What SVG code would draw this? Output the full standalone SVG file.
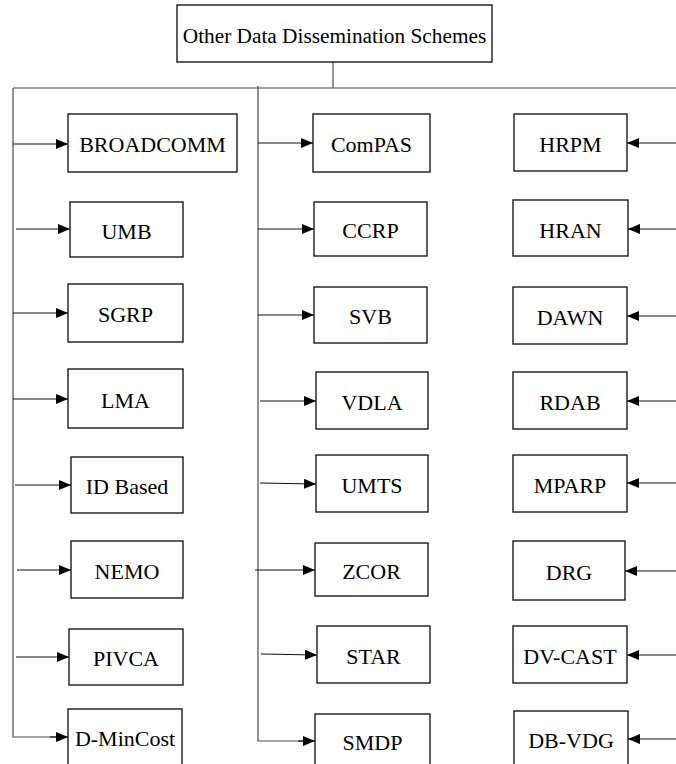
<svg xmlns="http://www.w3.org/2000/svg" width="676" height="764" viewBox="0 0 676 764" font-family="'Liberation Serif', 'Times New Roman', 'DejaVu Serif', serif">
  <style>
    .box { fill: #ffffff; stroke: #1a1a1a; stroke-width: 1.4; }
    text { font-family: "Liberation Serif", "Times New Roman", "DejaVu Serif", serif; font-size: 22px; fill: #000; text-anchor: middle; }
    .title { font-size: 21.3px; }
    .trunk { fill: none; stroke: #4a4a4a; stroke-width: 1.2; }
    .arrow { fill: none; stroke: #111; stroke-width: 1.2; marker-end: url(#head); }
  </style>
  <defs>
    <marker id="head" markerUnits="userSpaceOnUse" markerWidth="13" markerHeight="11" refX="12" refY="5" orient="auto">
      <path d="M0,0 L12,5 L0,10 Z" fill="#000"/>
    </marker>
  </defs>

  <rect width="676" height="764" fill="#ffffff"/>

  <!-- connectors -->
  <g id="connectors">
    <!-- root stem and horizontal bus -->
    <path class="trunk" d="M333,62 V88"/>
    <path class="trunk" d="M13,88 H676"/>
    <!-- left trunk ending in the last arrow -->
    <path class="trunk" d="M13,88 V737 H56"/>
    <!-- middle trunk -->
    <path class="trunk" d="M258,86 V741 H303"/>

    <!-- left column -->
    <line class="arrow" x1="13" y1="144" x2="68" y2="144"/>
    <line class="arrow" x1="16" y1="229" x2="70" y2="229"/>
    <line class="arrow" x1="13" y1="313" x2="68" y2="313"/>
    <line class="arrow" x1="13" y1="399" x2="68" y2="399"/>
    <line class="arrow" x1="15" y1="485" x2="71" y2="485"/>
    <line class="arrow" x1="17" y1="570" x2="71" y2="570"/>
    <line class="arrow" x1="16" y1="657" x2="69" y2="657"/>
    <line class="arrow" x1="50" y1="737" x2="68" y2="737"/>

    <!-- middle column -->
    <line class="arrow" x1="258" y1="143" x2="313" y2="143"/>
    <line class="arrow" x1="258" y1="229" x2="314" y2="229"/>
    <line class="arrow" x1="258" y1="315" x2="314" y2="315"/>
    <line class="arrow" x1="260" y1="401" x2="316" y2="401"/>
    <line class="arrow" x1="260" y1="483" x2="316" y2="484"/>
    <line class="arrow" x1="255" y1="570" x2="315" y2="570"/>
    <line class="arrow" x1="261" y1="654" x2="317" y2="655"/>
    <line class="arrow" x1="298" y1="741" x2="315" y2="741"/>

    <!-- right column, fed from the right edge -->
    <line class="arrow" x1="676" y1="143" x2="627" y2="143"/>
    <line class="arrow" x1="676" y1="229" x2="628" y2="229"/>
    <line class="arrow" x1="676" y1="316" x2="627" y2="316"/>
    <line class="arrow" x1="676" y1="401" x2="627" y2="401"/>
    <line class="arrow" x1="676" y1="483" x2="627" y2="483"/>
    <line class="arrow" x1="676" y1="571" x2="625" y2="571"/>
    <line class="arrow" x1="676" y1="655" x2="627" y2="655"/>
    <line class="arrow" x1="676" y1="739" x2="628" y2="739"/>
  </g>

  <!-- root -->
  <g id="root">
    <rect class="box" x="177" y="5" width="315" height="57"/>
    <text class="title" x="334.5" y="43">Other Data Dissemination Schemes</text>
  </g>

  <!-- left column -->
  <g id="broadcomm"><rect class="box" x="68" y="114" width="169" height="58"/><text x="152.5" y="152">BROADCOMM</text></g>
  <g id="umb"><rect class="box" x="70" y="202" width="113" height="55"/><text x="126.5" y="239">UMB</text></g>
  <g id="sgrp"><rect class="box" x="68" y="284" width="115" height="58"/><text x="125.5" y="322">SGRP</text></g>
  <g id="lma"><rect class="box" x="68" y="369" width="115" height="59"/><text x="125.5" y="408">LMA</text></g>
  <g id="id-based"><rect class="box" x="71" y="457" width="112" height="56"/><text x="127" y="494">ID Based</text></g>
  <g id="nemo"><rect class="box" x="71" y="541" width="112" height="57"/><text x="127" y="579">NEMO</text></g>
  <g id="pivca"><rect class="box" x="69" y="629" width="114" height="56"/><text x="126" y="666">PIVCA</text></g>
  <g id="d-mincost"><rect class="box" x="68" y="709" width="114" height="62"/><text x="125" y="746">D-MinCost</text></g>

  <!-- middle column -->
  <g id="compas"><rect class="box" x="313" y="114" width="117" height="58"/><text x="371.5" y="152">ComPAS</text></g>
  <g id="ccrp"><rect class="box" x="314" y="202" width="113" height="54"/><text x="370.5" y="238">CCRP</text></g>
  <g id="svb"><rect class="box" x="314" y="287" width="113" height="56"/><text x="370.5" y="324">SVB</text></g>
  <g id="vdla"><rect class="box" x="316" y="372" width="112" height="57"/><text x="372" y="410">VDLA</text></g>
  <g id="umts"><rect class="box" x="316" y="455" width="112" height="57"/><text x="372" y="493">UMTS</text></g>
  <g id="zcor"><rect class="box" x="315" y="543" width="113" height="53"/><text x="371.5" y="579">ZCOR</text></g>
  <g id="star"><rect class="box" x="317" y="626" width="113" height="57"/><text x="373.5" y="664">STAR</text></g>
  <g id="smdp"><rect class="box" x="315" y="714" width="115" height="57"/><text x="372.5" y="750">SMDP</text></g>

  <!-- right column -->
  <g id="hrpm"><rect class="box" x="514" y="114" width="113" height="57"/><text x="570.5" y="152">HRPM</text></g>
  <g id="hran"><rect class="box" x="513" y="200" width="115" height="56"/><text x="570.5" y="238">HRAN</text></g>
  <g id="dawn"><rect class="box" x="513" y="287" width="114" height="57"/><text x="570" y="325">DAWN</text></g>
  <g id="rdab"><rect class="box" x="513" y="372" width="114" height="57"/><text x="570" y="410">RDAB</text></g>
  <g id="mparp"><rect class="box" x="513" y="455" width="114" height="57"/><text x="570" y="493">MPARP</text></g>
  <g id="drg"><rect class="box" x="513" y="541" width="112" height="59"/><text x="569" y="580">DRG</text></g>
  <g id="dv-cast"><rect class="box" x="513" y="626" width="114" height="57"/><text x="570" y="664">DV-CAST</text></g>
  <g id="db-vdg"><rect class="box" x="514" y="711" width="114" height="60"/><text x="571" y="748">DB-VDG</text></g>
</svg>
